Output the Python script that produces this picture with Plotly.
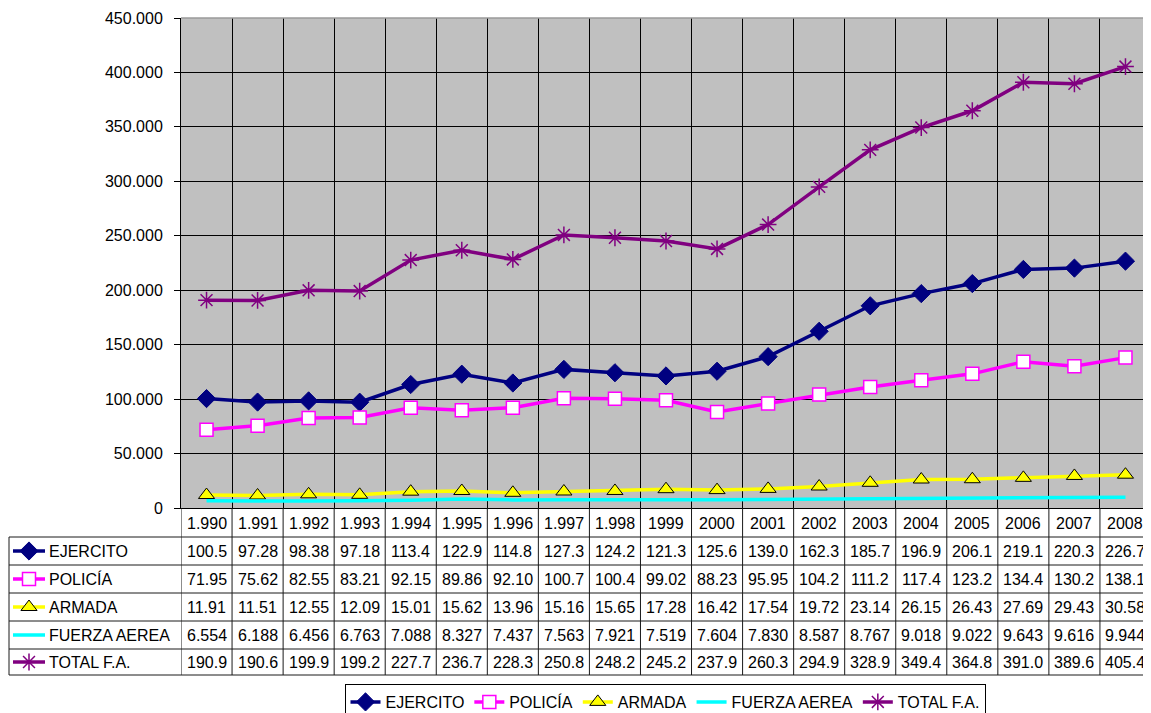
import plotly.graph_objects as go

years = ["1.990", "1.991", "1.992", "1.993", "1.994", "1.995", "1.996", "1.997", "1.998",
         "1999", "2000", "2001", "2002", "2003", "2004", "2005", "2006", "2007", "2008"]
ejercito = [100.5, 97.28, 98.38, 97.18, 113.4, 122.9, 114.8, 127.3, 124.2, 121.3,
            125.6, 139.0, 162.3, 185.7, 196.9, 206.1, 219.1, 220.3, 226.7]
policia = [71.95, 75.62, 82.55, 83.21, 92.15, 89.86, 92.10, 100.7, 100.4, 99.02,
           88.23, 95.95, 104.2, 111.2, 117.4, 123.2, 134.4, 130.2, 138.1]
armada = [11.91, 11.51, 12.55, 12.09, 15.01, 15.62, 13.96, 15.16, 15.65, 17.28,
          16.42, 17.54, 19.72, 23.14, 26.15, 26.43, 27.69, 29.43, 30.58]
fuerza = [6.554, 6.188, 6.456, 6.763, 7.088, 8.327, 7.437, 7.563, 7.921, 7.519,
          7.604, 7.830, 8.587, 8.767, 9.018, 9.022, 9.643, 9.616, 9.944]
total = [190.9, 190.6, 199.9, 199.2, 227.7, 236.7, 228.3, 250.8, 248.2, 245.2,
         237.9, 260.3, 294.9, 328.9, 349.4, 364.8, 391.0, 389.6, 405.4]

series_names = ["EJERCITO", "POLICÍA", "ARMADA", "FUERZA AEREA", "TOTAL F.A."]
series_values = [ejercito, policia, armada, fuerza, total]

# page body has an 8px margin: figure is offset by 8px in the window
OFF = 8
W, H = 1151 - OFF, 713 - OFF
FONT = "Arial, Liberation Sans, sans-serif"


def X(px):
    return (px - OFF) / W


def Y(py):
    return (H - (py - OFF)) / H


styles = [
    dict(line=dict(color="#000080", width=3.5),
         marker=dict(symbol="diamond", size=14, color="#000080", line=dict(color="#000080", width=1))),
    dict(line=dict(color="#FF00FF", width=3.5),
         marker=dict(symbol="square", size=13, color="white", line=dict(color="#FF00FF", width=1.5))),
    dict(line=dict(color="#FFFF00", width=3.5),
         marker=dict(symbol="triangle-up", size=14, color="#FFFF00", line=dict(color="black", width=1))),
    dict(line=dict(color="#00FFFF", width=3.5),
         marker=dict(size=1, opacity=0)),
    dict(line=dict(color="#800080", width=3.5),
         marker=dict(symbol="asterisk-open", size=14, color="#800080", line=dict(color="#800080", width=1.5))),
]

idx = list(range(len(years)))

fig = go.Figure()
for name, vals, st in zip(series_names, series_values, styles):
    mode = "lines" if name == "FUERZA AEREA" else "lines+markers"
    fig.add_trace(go.Scatter(
        x=years, y=[v * 1000 for v in vals], name=name, mode=mode,
        line=st["line"], marker=st["marker"], cliponaxis=False,
    ))

# row-label glyphs in the data table
row_centers = [551, 579, 607, 635, 662]
for name, st, yc in zip(series_names, styles, row_centers):
    fig.add_trace(go.Scatter(
        x=[13, 45], y=[yc, yc], mode="lines", line=st["line"], showlegend=False,
        xaxis="x2", yaxis="y2", hoverinfo="skip", cliponaxis=False))
    if name != "FUERZA AEREA":
        fig.add_trace(go.Scatter(
            x=[29], y=[yc], mode="markers", marker=st["marker"], showlegend=False,
            xaxis="x2", yaxis="y2", hoverinfo="skip", cliponaxis=False))


def fmt(v):
    if v >= 100:
        return f"{v:.1f}"
    if v >= 10:
        return f"{v:.2f}"
    return f"{v:.3f}"


shapes = []
annotations = []
LC = "#1a1a1a"
# grey plot background
shapes.append(dict(type="rect", xref="paper", yref="paper", x0=X(181), x1=1,
                   y0=Y(508), y1=Y(18), fillcolor="#C0C0C0", line=dict(width=0), layer="below"))
# horizontal table lines
for py in [537, 565, 593, 621, 649, 675]:
    shapes.append(dict(type="line", xref="paper", yref="paper", x0=X(9), x1=1,
                       y0=Y(py), y1=Y(py), line=dict(color=LC, width=1)))
# vertical lines at category boundaries
for i in range(len(years) + 1):
    shapes.append(dict(type="line", xref="x", yref="paper", x0=i - 0.5, x1=i - 0.5,
                       y0=Y(675), y1=Y(508), line=dict(color=LC, width=1)))
# left border of label column
shapes.append(dict(type="line", xref="paper", yref="paper", x0=X(9), x1=X(9),
                   y0=Y(675), y1=Y(537), line=dict(color=LC, width=1)))
# grey top frame
shapes.append(dict(type="line", xref="paper", yref="paper", x0=X(181), x1=1,
                   y0=Y(18), y1=Y(18), line=dict(color="#9a9a9a", width=1.5)))

TF = dict(size=16, color="black", family=FONT)
for i, yr in zip(idx, years):
    annotations.append(dict(x=i, y=Y(523), xref="x", yref="paper", text=yr,
                            xanchor="center", yanchor="middle", showarrow=False, font=TF))
for name, vals, yc in zip(series_names, series_values, row_centers):
    annotations.append(dict(x=X(47), y=Y(yc), xref="paper", yref="paper", text=name,
                            xanchor="left", yanchor="middle", showarrow=False, font=TF))
    for i, v in zip(idx, vals):
        annotations.append(dict(x=i, y=Y(yc), xref="x", yref="paper", text=fmt(v),
                                xanchor="center", yanchor="middle", showarrow=False, font=TF))

fig.update_layout(
    width=W, height=H,
    margin=dict(l=0, r=0, t=0, b=0, autoexpand=False),
    paper_bgcolor="white",
    plot_bgcolor="rgba(0,0,0,0)",
    separators=",.",
    font=dict(family=FONT, size=16, color="black"),
    xaxis=dict(type="category", domain=[X(181), 1], tickson="boundaries",
               showticklabels=False, ticks="", showgrid=True, gridcolor="black", gridwidth=1,
               showline=True, linecolor="black", linewidth=1, zeroline=False,
               range=[-0.5, len(years) - 0.5], fixedrange=True, automargin=False),
    yaxis=dict(domain=[Y(508), Y(18)], range=[0, 450000], dtick=50000, tickformat=",d",
               showgrid=True, gridcolor="black", gridwidth=1, zeroline=False,
               showline=True, linecolor="black", linewidth=1,
               ticks="outside", ticklen=6, tickcolor="black", ticklabelstandoff=8,
               automargin=False,
               tickfont=dict(size=16, family=FONT, color="black")),
    xaxis2=dict(domain=[0, X(181)], range=[OFF, 181], visible=False, anchor="y2", automargin=False),
    yaxis2=dict(domain=[Y(675), Y(537)], range=[675, 537], visible=False, anchor="x2", automargin=False),
    shapes=shapes,
    annotations=annotations,
    legend=dict(orientation="h", x=X(665), xanchor="center", y=Y(684), yanchor="top",
                bgcolor="white", bordercolor="black", borderwidth=1,
                font=dict(size=16, family=FONT, color="black"),
                itemwidth=30, tracegroupgap=0),
    showlegend=True,
)

fig.write_html("out.html")
